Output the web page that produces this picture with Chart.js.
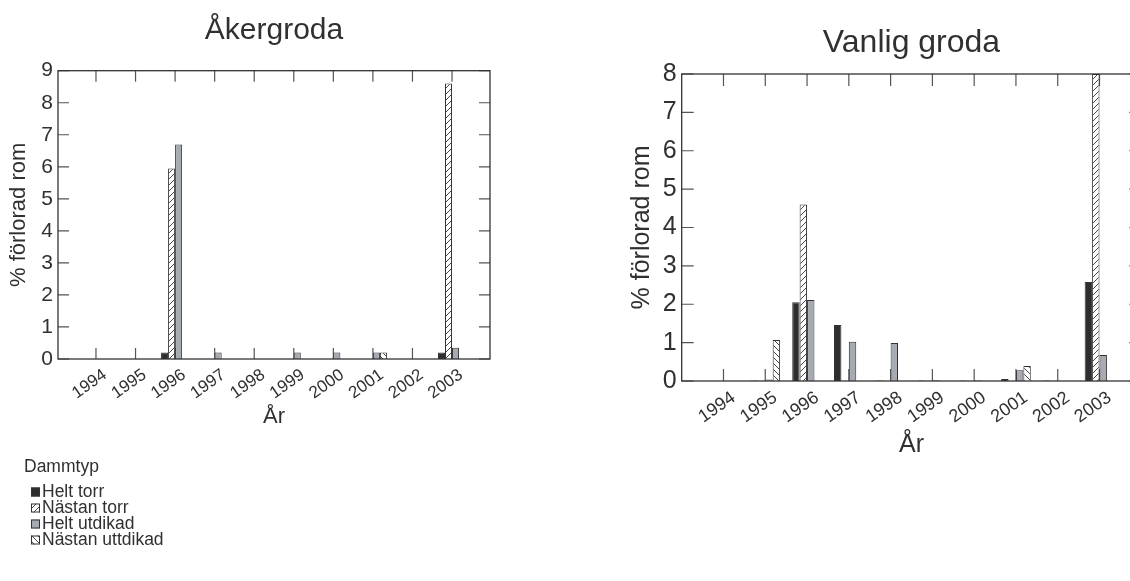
<!DOCTYPE html>
<html><head><meta charset="utf-8">
<script src="https://cdn.jsdelivr.net/npm/chart.js@4.4.1/dist/chart.umd.min.js"></script>
<style>
html,body{margin:0;padding:0;background:#fff;overflow:hidden;width:1130px;height:581px;position:relative;}
#c1{position:absolute;left:0;top:0;}
#c2{position:absolute;left:560px;top:0;}
</style></head><body>
<canvas id="c1" width="540" height="581"></canvas>
<canvas id="c2" width="600" height="581"></canvas>
<script>
// ---- data ----
const years = ['1994','1995','1996','1997','1998','1999','2000','2001','2002','2003'];
const seriesNames = ['Helt torr','Nästan torr','Helt utdikad','Nästan uttdikad'];
const akerTitle = 'Åkergroda';
const vanligTitle = 'Vanlig groda';
const yAxisTitle = '% förlorad rom';
const xAxisTitle = 'År';
const legendTitle = 'Dammtyp';
const akerYTicks = [0,1,2,3,4,5,6,7,8,9];
const vanligYTicks = [0,1,2,3,4,5,6,7,8];

const akerHeltTorr      = [0, 0, 0.2, 0, 0, 0, 0, 0, 0, 0.2];
const akerNastanTorr    = [0, 0, 5.95, 0, 0, 0, 0, 0, 0, 8.6];
const akerHeltUtdikad   = [0, 0, 6.7, 0.2, 0, 0.2, 0.2, 0.2, 0, 0.35];
const akerNastanUttdikad= [0, 0, 0, 0, 0, 0, 0, 0.2, 0, 0];

const vanligHeltTorr      = [0, 0.01, 2.05, 1.46, 0.01, 0.01, 0.01, 0.05, 0.01, 2.58];
const vanligNastanTorr    = [0, 0, 4.6, 0, 0, 0, 0, 0, 0, 8.0];
const vanligHeltUtdikad   = [0, 0.04, 2.11, 1.02, 0.99, 0.02, 0.02, 0.28, 0, 0.68];
const vanligNastanUttdikad= [0, 1.07, 0, 0, 0, 0, 0, 0.39, 0, 0];

// ---- styles ----
const FONT = "'Liberation Sans', Arial, sans-serif";
const TXT = '#303030';
function hatch(dir){
  const s = 6, c = document.createElement('canvas'); c.width = s; c.height = s;
  const g = c.getContext('2d');
  g.fillStyle = '#fff'; g.fillRect(0,0,s,s);
  g.strokeStyle = '#333'; g.lineWidth = 0.9; g.beginPath();
  if (dir === '/') { g.moveTo(0,s); g.lineTo(s,0); g.moveTo(-1,1); g.lineTo(1,-1); g.moveTo(s-1,s+1); g.lineTo(s+1,s-1); }
  else { g.moveTo(0,0); g.lineTo(s,s); g.moveTo(-1,s-1); g.lineTo(1,s+1); g.moveTo(s-1,-1); g.lineTo(s+1,1); }
  g.stroke();
  return g.createPattern(c, 'repeat');
}
const fills = ['#2e2e2e', hatch('/'), '#a6abb3', hatch('\\')];

const frameTicks = {
  id: 'frameTicks',
  beforeDatasetsDraw(chart, args, opts){
    const {ctx, chartArea: a, scales: {x, y}} = chart;
    ctx.save(); ctx.strokeStyle = '#555'; ctx.lineWidth = 1.2; ctx.beginPath();
    y.ticks.forEach(t => { const p = y.getPixelForValue(t.value);
      ctx.moveTo(a.left, p); ctx.lineTo(a.left + opts.len, p);
      ctx.moveTo(a.right, p); ctx.lineTo(a.right - opts.len, p); });
    x.ticks.forEach(t => { const p = x.getPixelForValue(t.value);
      ctx.moveTo(p, a.bottom); ctx.lineTo(p, a.bottom - opts.len);
      ctx.moveTo(p, a.top); ctx.lineTo(p, a.top + opts.len); });
    ctx.stroke(); ctx.restore();
  },
  afterDatasetsDraw(chart){
    const {ctx, chartArea: a} = chart;
    ctx.save(); ctx.strokeStyle = '#333'; ctx.lineWidth = 1.3;
    ctx.strokeRect(a.left, a.top, a.right - a.left, a.bottom - a.top);
    ctx.restore();
  }
};

const sideLegend = {
  id: 'sideLegend',
  afterDraw(chart, args, opts){
    if (!opts.show) return;
    const ctx = chart.ctx; ctx.save();
    ctx.fillStyle = TXT; ctx.textBaseline = 'middle'; ctx.textAlign = 'left';
    ctx.font = opts.fontSize + 'px ' + FONT;
    ctx.fillText(opts.title, opts.titleX, opts.titleY);
    chart.data.datasets.forEach((ds, i) => {
      const yc = opts.y0 + i * opts.dy;
      const b = opts.box;
      ctx.fillStyle = ds.backgroundColor;
      ctx.fillRect(opts.boxX, yc - b/2, b, b);
      ctx.strokeStyle = '#333'; ctx.lineWidth = 1;
      ctx.strokeRect(opts.boxX + 0.5, yc - b/2 + 0.5, b - 1, b - 1);
      ctx.fillStyle = TXT;
      ctx.fillText(ds.label, opts.textX, yc);
    });
    ctx.restore();
  }
};

function buildDatasets(vals){
  return seriesNames.map((n, k) => ({
    label: n,
    data: vals[k].map((v, i) => ({x: i, y: v})),
    backgroundColor: fills[k],
    borderColor: '#333',
    borderWidth: 1,
    categoryPercentage: 0.71,
    barPercentage: 1
  }));
}

function makeChart(id, cfg){
  return new Chart(document.getElementById(id), {
    type: 'bar',
    data: { datasets: buildDatasets(cfg.vals) },
    plugins: [frameTicks, sideLegend],
    options: {
      responsive: false, animation: false, events: [],
      layout: { padding: cfg.pad },
      plugins: {
        legend: { display: false }, tooltip: { enabled: false },
        title: { display: true, text: cfg.title, fullSize: false, color: TXT,
          font: { family: FONT, size: cfg.titleSize, weight: 'normal', lineHeight: 1.2 },
          padding: cfg.titlePad },
        frameTicks: { len: cfg.tickLen },
        sideLegend: cfg.legend || { show: false }
      },
      scales: {
        x: {
          type: 'linear', min: cfg.xMin, max: cfg.xMax, offset: false,
          grid: { display: false, drawTicks: false, offset: false }, border: { display: false },
          afterBuildTicks: s => { s.ticks = years.map((y, i) => ({ value: i })); },
          afterFit: s => { s.height = cfg.xH; s.paddingLeft = 0; s.paddingRight = 0; },
          ticks: { autoSkip: false, minRotation: cfg.rot, maxRotation: cfg.rot,
            padding: cfg.xTickPad, labelOffset: cfg.labelOffset, color: TXT,
            font: { family: FONT, size: cfg.xTickSize },
            callback: v => years[v] },
          title: { display: true, text: xAxisTitle, color: TXT,
            font: { family: FONT, size: cfg.xTitleSize, lineHeight: 1.2 },
            padding: { top: 0, bottom: 0 } }
        },
        y: {
          min: 0, max: cfg.yTicks[cfg.yTicks.length - 1],
          grid: { display: false, drawTicks: false }, border: { display: false },
          afterBuildTicks: s => { s.ticks = cfg.yTicks.map(v => ({ value: v })); },
          afterFit: s => { s.width = cfg.yW; s.paddingTop = 0; s.paddingBottom = 0; },
          ticks: { padding: cfg.yTickPad, color: TXT, font: { family: FONT, size: cfg.yTickSize },
            callback: v => String(v) },
          title: { display: true, text: yAxisTitle, color: TXT,
            font: { family: FONT, size: cfg.yTitleSize, lineHeight: 1.2 },
            padding: { top: cfg.yTitlePad, bottom: 0 } }
        }
      }
    }
  });
}

makeChart('c1', {
  vals: [akerHeltTorr, akerNastanTorr, akerHeltUtdikad, akerNastanUttdikad],
  yTicks: akerYTicks, title: akerTitle, titleSize: 30, titlePad: { top: 13.2, bottom: 21.5 },
  pad: { left: 0, right: 50, top: 0, bottom: 150.5 },
  xMin: -0.96, xMax: 9.96, xH: 71.5, yW: 58, tickLen: 11,
  rot: 35, xTickPad: 6, labelOffset: 9, xTickSize: 17, xTitleSize: 22,
  yTickPad: 5, yTickSize: 21, yTitleSize: 22, yTitlePad: 5.8,
  legend: { show: true, title: legendTitle, titleX: 24, titleY: 467, y0: 492, dy: 16,
    boxX: 31, box: 9, textX: 42, fontSize: 17.5 }
});

makeChart('c2', {
  vals: [vanligHeltTorr, vanligNastanTorr, vanligHeltUtdikad, vanligNastanUttdikad],
  yTicks: vanligYTicks, title: vanligTitle, titleSize: 32, titlePad: { top: 23.8, bottom: 11.8 },
  pad: { left: 0, right: 18.7, top: 0, bottom: 120.7 },
  xMin: -1, xMax: 10, xH: 79.3, yW: 121.7, tickLen: 12,
  rot: 35, xTickPad: 6, labelOffset: 10, xTickSize: 18, xTitleSize: 25,
  yTickPad: 5, yTickSize: 25, yTitleSize: 25, yTitlePad: 67.3
});
</script>
</body></html>
